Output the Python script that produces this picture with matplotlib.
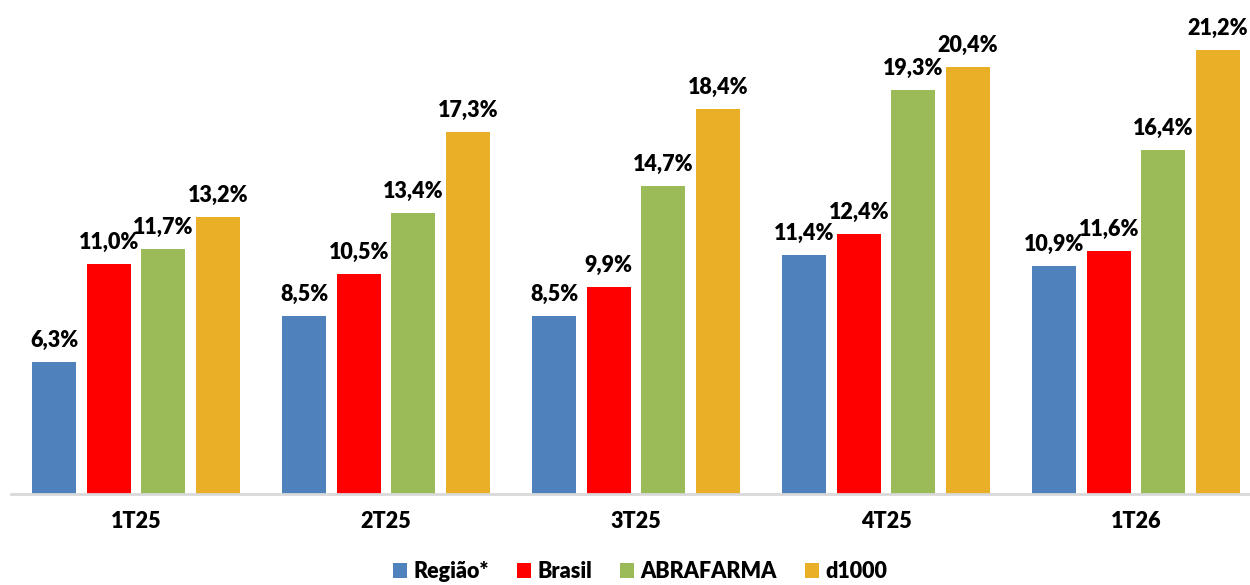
import numpy as np
import matplotlib.pyplot as plt

# Dados por trimestre (%)
trimestres = ['1T25', '2T25', '3T25', '4T25', '1T26']
series = ['Região*', 'Brasil', 'ABRAFARMA', 'd1000']
regiao = [6.3, 8.5, 8.5, 11.4, 10.9]
brasil = [11.0, 10.5, 9.9, 12.4, 11.6]
abrafarma = [11.7, 13.4, 14.7, 19.3, 16.4]
d1000 = [13.2, 17.3, 18.4, 20.4, 21.2]
cores = ['#4F81BD', '#FF0000', '#9BBB59', '#E9AF26']

plt.rcParams['font.family'] = ['Lato', 'DejaVu Sans']

fig = plt.figure(figsize=(12.5, 5.85), dpi=100)
ax = fig.add_axes([11 / 1250, 91 / 585, 1250 / 1250, 494 / 585])

x = np.arange(len(trimestres))
passo = 54.5 / 250
largura = 44 / 250
for i, (nome, valores, cor) in enumerate(zip(series, [regiao, brasil, abrafarma, d1000], cores)):
    pos = x + (i - 1.5) * passo
    ax.bar(pos, valores, width=largura, color=cor, label=nome)
    for p, v in zip(pos, valores):
        ax.annotate(f'{v:.1f}%'.replace('.', ','), (p, v), xytext=(0, 8),
                    textcoords='offset points', ha='center', va='bottom',
                    fontsize=15.5, fontweight='heavy', color='black')

ax.set_xlim(-0.5, 4.5)
ax.set_ylim(0, 23.58)
ax.set_yticks([])
ax.set_xticks(x)
ax.set_xticklabels(trimestres, fontsize=15.5, fontweight='heavy')
ax.tick_params(axis='x', length=0, pad=12)
for lado in ['top', 'right', 'left']:
    ax.spines[lado].set_visible(False)
ax.spines['bottom'].set_color('#D9D9D9')
ax.spines['bottom'].set_linewidth(2)

fig.legend(loc='lower center', bbox_to_anchor=(0.512, -0.028), ncol=4, frameon=False,
           prop={'size': 15.5, 'weight': 'heavy'}, handlelength=0.65, handleheight=0.65,
           handletextpad=0.3, columnspacing=1.3)

fig.savefig('out.png', dpi=100)
